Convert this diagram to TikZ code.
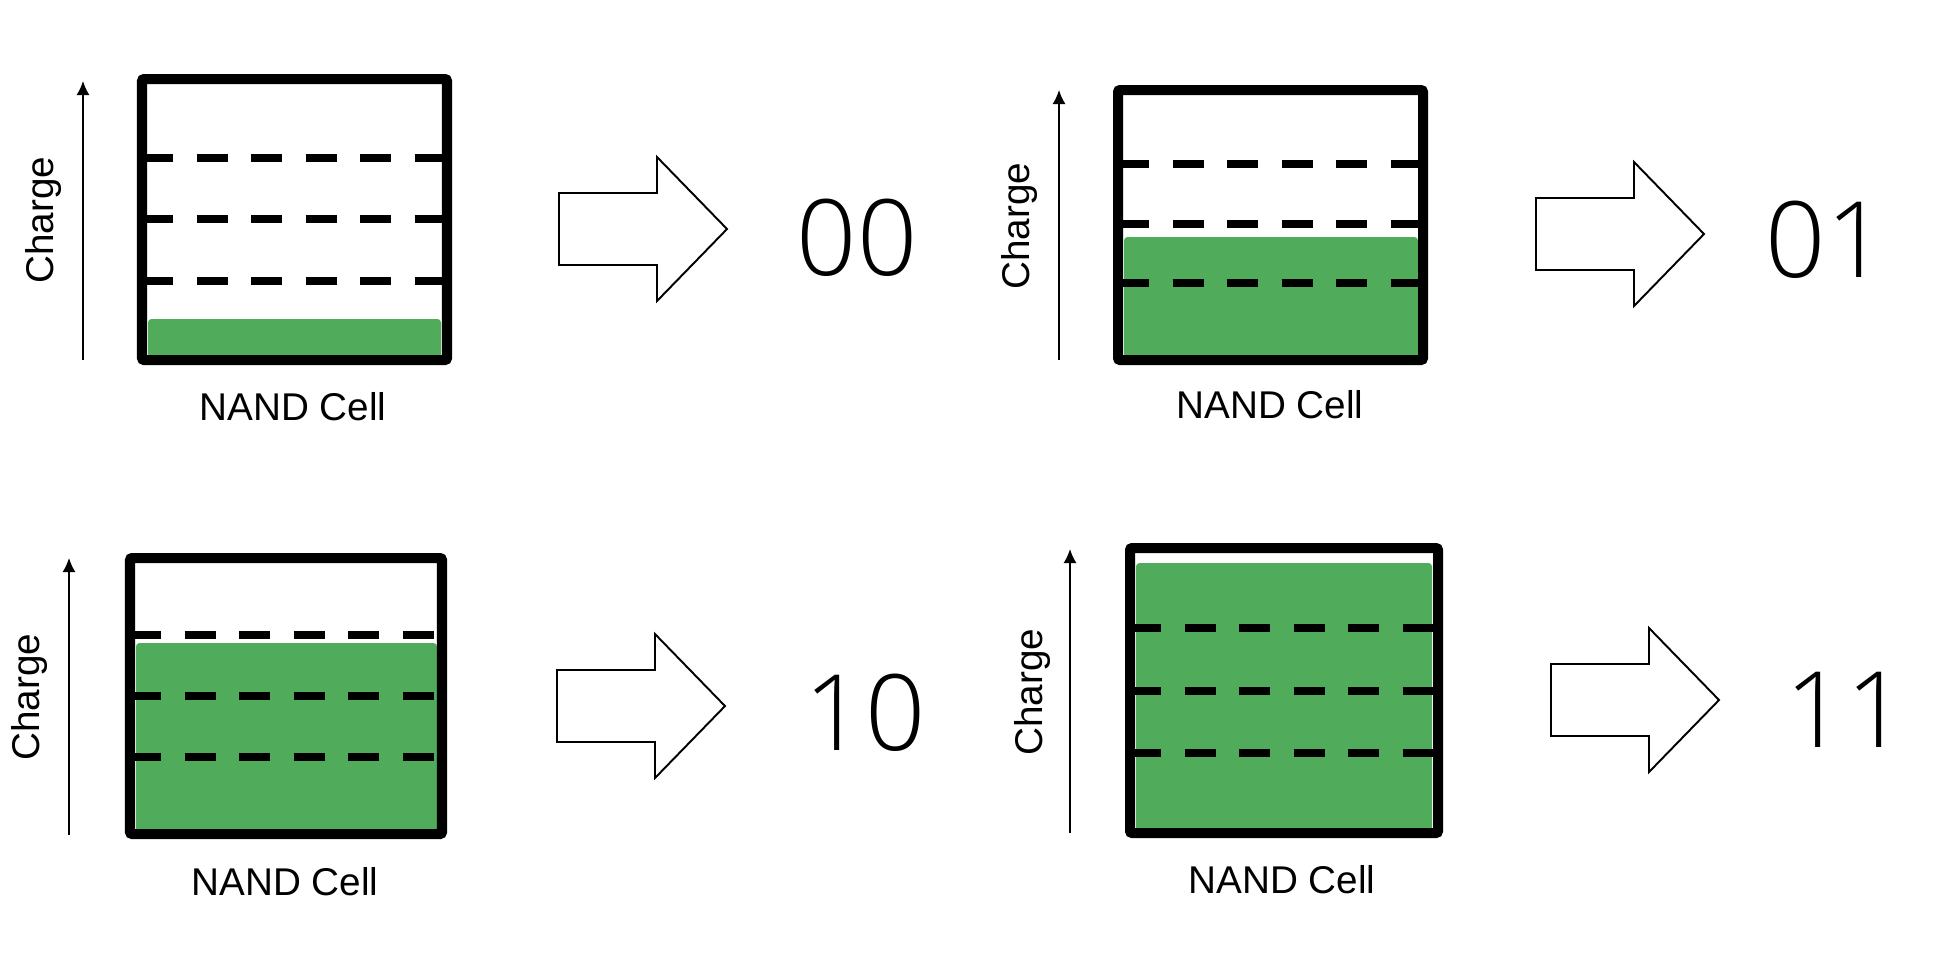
\documentclass[tikz,border=0pt]{standalone}
\usepackage{fontspec}
\setmainfont{Liberation Sans}
\newfontfamily\bitfont{Open Sans Light}
\usetikzlibrary{arrows.meta}
\definecolor{cellgreen}{RGB}{80,172,91}

\begin{document}
\begin{tikzpicture}[
    x=0.01cm, y=-0.01cm,
    every node/.style={font=\fontsize{11pt}{13pt}\selectfont, inner sep=0pt},
    bits/.style={font=\bitfont\fontsize{30pt}{36pt}\selectfont, anchor=base},
    lbl/.style={anchor=base},
    ylbl/.style={anchor=base, rotate=90},
    cellbox/.style={draw=black, line width=2.85pt, rounded corners=0.6pt},
    lvl/.style={draw=black, line width=2.3pt, dash pattern=on 0.31cm off 0.235cm},
    fillc/.style={fill=cellgreen, rounded corners=1pt},
    chg/.style={-{Latex[length=0.14cm, width=0.13cm]}, line width=0.45pt},
    bigarr/.pic={\draw[line width=0.55pt, line join=miter] (0,-36) -- (98,-36) -- (98,-72) -- (168,0) -- (98,72) -- (98,36) -- (0,36) -- cycle;}
]
\useasboundingbox (0,0) rectangle (1940,956);

% cell 00
\fill[fillc] (148,319) rectangle (441,362);
\draw[lvl] (142,158) -- (447,158);
\draw[lvl] (142,219) -- (447,219);
\draw[lvl] (142,281) -- (447,281);
\draw[cellbox] (142,79) rectangle (447,360);
\coordinate (c1b) at (83,360);
\coordinate (c1t) at (83,81);
\draw[chg] (c1b) -- (c1t);
\node[ylbl] (chg1) at (53,220) {Charge};
\node[lbl] (nand1) at (293,420) {NAND Cell};
\pic at (559,229) {bigarr};
\node[bits] (val1) at (857,275) {00};

% cell 01
\fill[fillc] (1124,237) rectangle (1418,362);
\draw[lvl] (1118,164) -- (1423,164);
\draw[lvl] (1118,224) -- (1423,224);
\draw[lvl] (1118,283) -- (1423,283);
\draw[cellbox] (1118,90) rectangle (1423,360);
\coordinate (c2b) at (1059,360);
\coordinate (c2t) at (1059,90);
\draw[chg] (c2b) -- (c2t);
\node[ylbl] (chg2) at (1029,226) {Charge};
\node[lbl] (nand2) at (1270,418) {NAND Cell};
\pic at (1536,234) {bigarr};
\node[bits] (val2) at (1826,277) {01};

% cell 10
\fill[fillc] (136,643) rectangle (437,836);
\draw[lvl] (130,635) -- (442,635);
\draw[lvl] (130,696) -- (442,696);
\draw[lvl] (130,757) -- (442,757);
\draw[cellbox] (130,558) rectangle (442,834);
\coordinate (c3b) at (69,835);
\coordinate (c3t) at (69,558);
\draw[chg] (c3b) -- (c3t);
\node[ylbl] (chg3) at (39,697) {Charge};
\node[lbl] (nand3) at (285,895) {NAND Cell};
\pic at (557,706) {bigarr};
\node[bits] (val3) at (865,750) {10};

% cell 11
\fill[fillc] (1136,563) rectangle (1432,835);
\draw[lvl] (1130,628) -- (1438,628);
\draw[lvl] (1130,691) -- (1438,691);
\draw[lvl] (1130,753) -- (1438,753);
\draw[cellbox] (1130,548) rectangle (1438,833);
\coordinate (c4b) at (1070,833);
\coordinate (c4t) at (1070,549);
\draw[chg] (c4b) -- (c4t);
\node[ylbl] (chg4) at (1042,692) {Charge};
\node[lbl] (nand4) at (1282,893) {NAND Cell};
\pic at (1551,700) {bigarr};
\node[bits] (val4) at (1846,747) {11};
\end{tikzpicture}
\end{document}
